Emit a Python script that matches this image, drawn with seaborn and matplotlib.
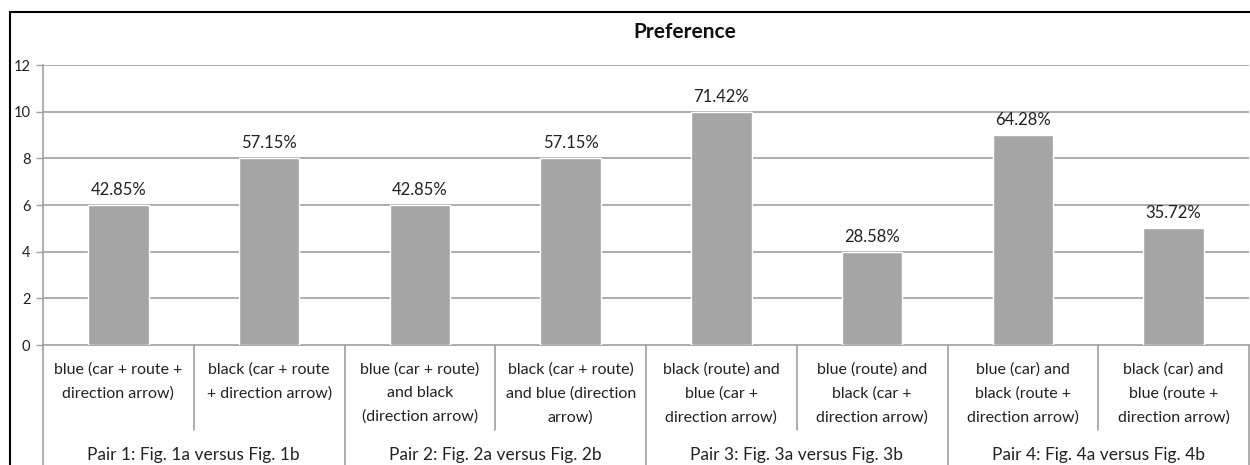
import numpy as np
import pandas as pd
import matplotlib
matplotlib.use('Agg')
import matplotlib.pyplot as plt
import matplotlib.transforms as mtransforms
from matplotlib.patches import Rectangle
import seaborn as sns

categories = [
    "blue (car + route +\ndirection arrow)",
    "black (car + route\n+ direction arrow)",
    "blue (car + route)\nand black\n(direction arrow)",
    "black (car + route)\nand blue (direction\narrow)",
    "black (route) and\nblue (car +\ndirection arrow)",
    "blue (route) and\nblack (car +\ndirection arrow)",
    "blue (car) and\nblack (route +\ndirection arrow)",
    "black (car) and\nblue (route +\ndirection arrow)",
]
counts = [6, 8, 6, 8, 10, 4, 9, 5]
percent_labels = ["42.85%", "57.15%", "42.85%", "57.15%", "71.42%", "28.58%", "64.28%", "35.72%"]
pair_labels = [
    "Pair 1: Fig. 1a versus Fig. 1b",
    "Pair 2: Fig. 2a versus Fig. 2b",
    "Pair 3: Fig. 3a versus Fig. 3b",
    "Pair 4: Fig. 4a versus Fig. 4b",
]
y_ticks = [0, 2, 4, 6, 8, 10, 12]

sns.set_style("white")
plt.rcParams['font.family'] = ['Lato', 'DejaVu Sans']

W, H = 1250, 465
fig = plt.figure(figsize=(12.5, 4.65), dpi=100)
ax = fig.add_axes([43 / W, 1 - 345 / H, (1249 - 43) / W, 280 / H])

df = pd.DataFrame({'cat': range(len(counts)), 'count': counts})
sns.barplot(data=df, x='cat', y='count', color='#a5a5a5', saturation=1,
            width=0.4, ax=ax, zorder=3)

ax.set_ylim(0, 12)
ax.set_xlim(-0.5, len(counts) - 0.5)
ax.set_yticks(y_ticks)
ax.set_yticklabels([str(t) for t in y_ticks], fontsize=10.5, color='#222222')
ax.tick_params(axis='y', length=5, width=1, color='#a0a0a0', pad=4, direction='out', left=True)
ax.set_xticks([])
ax.set_xlabel('')
ax.set_ylabel('')
for t in y_ticks[1:]:
    ax.axhline(t, color='#a0a0a0', lw=1.2, zorder=1)
for s in ['top', 'right']:
    ax.spines[s].set_visible(False)
for s in ['left', 'bottom']:
    ax.spines[s].set_color('#a0a0a0')
    ax.spines[s].set_linewidth(1.2)

for i, (c, p) in enumerate(zip(counts, percent_labels)):
    ax.text(i, c + 0.3, p, ha='center', va='bottom', fontsize=12, color='#222222')

trans = mtransforms.blended_transform_factory(ax.transData, ax.transAxes)


def frac(py):
    return (345 - py) / 280


for i, lab in enumerate(categories):
    ax.text(i, frac(362), lab, ha='center', va='top', fontsize=11.5, color='#222222',
            linespacing=1.85, transform=trans, clip_on=False)

# separators between categories
for b in np.arange(-0.5, len(counts) + 0.5, 1.0):
    if int(round(b + 0.5)) % 2 == 0:
        y_end = frac(470)
    else:
        y_end = frac(430)
    ax.plot([b, b], [0, y_end], color='#a0a0a0', lw=1.2, transform=trans, clip_on=False)

for g, lab in enumerate(pair_labels):
    ax.text(2 * g + 0.5, frac(455), lab, ha='center', va='center', fontsize=12.5,
            color='#222222', transform=trans, clip_on=False)

fig.text(685 / W, 1 - 32 / H, "Preference", ha='center', va='center',
         fontsize=15, fontweight='bold', color='#111111')

fig.patches.append(Rectangle((10 / W, -0.1), 1.2, 1 - 12 / H + 0.1, transform=fig.transFigure,
                             fill=False, edgecolor='black', lw=1.5))

fig.savefig('out.png', dpi=100)
